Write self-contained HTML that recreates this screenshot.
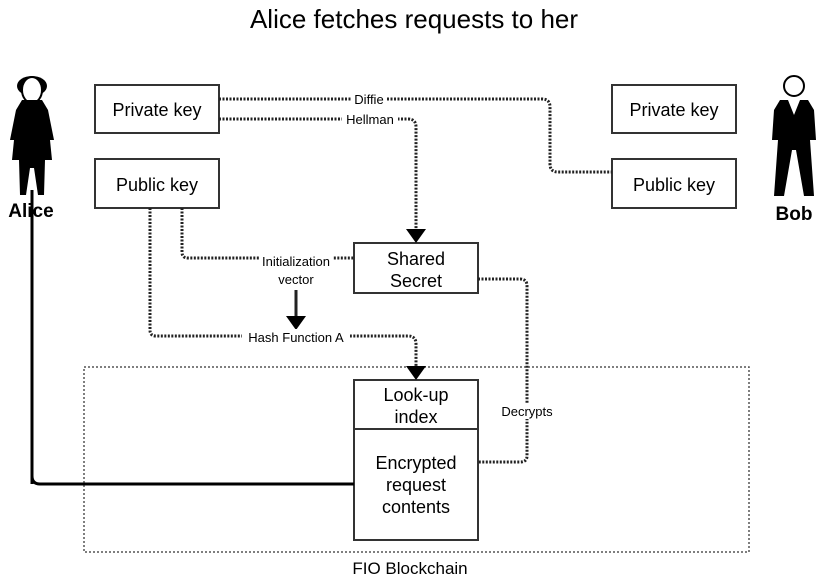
<!DOCTYPE html>
<html><head><style>
html,body{margin:0;padding:0;background:#fff;}
svg{display:block;font-family:"Liberation Sans",Arial,sans-serif;}
</style></head><body>
<svg width="829" height="587" viewBox="0 0 829 587" xmlns="http://www.w3.org/2000/svg">
<text x="414" y="28" font-size="26" text-anchor="middle">Alice fetches requests to her</text>

<!-- Alice figure -->
<g fill="#000">
<ellipse cx="32" cy="86" rx="15" ry="10"/>
<ellipse cx="32" cy="90" rx="10" ry="13" fill="#fff" stroke="#000" stroke-width="2"/>
<path d="M22 100 L42 100 L48 110 L54 140 L50 140 L52 160 L45 160 L44 195 L38 195 L34 168 L30 168 L26 195 L20 195 L19 160 L12 160 L14 140 L10 140 L16 110 Z"/>
</g>

<!-- Bob figure -->
<circle cx="794" cy="86" r="10" fill="#fff" stroke="#000" stroke-width="2"/>
<path d="M780 100 L808 100 L814 110 L816 140 L810 140 L814 196 L804 196 L796 150 L792 150 L784 196 L774 196 L778 140 L772 140 L774 110 Z" fill="#000"/>
<path d="M788 100 L794 115 L800 100 Z" fill="#fff"/>
<text x="794" y="220" font-size="19" font-weight="bold" text-anchor="middle">Bob</text>

<g fill="#fff" stroke="#333" stroke-width="2">
<rect x="95" y="85" width="124" height="48"/>
<rect x="95" y="159" width="124" height="49"/>
<rect x="612" y="85" width="124" height="48"/>
<rect x="612" y="159" width="124" height="49"/>
<rect x="354" y="243" width="124" height="50"/>
<rect x="354" y="380" width="124" height="49"/>
<rect x="354" y="429" width="124" height="111"/>
</g>
<rect x="84" y="367" width="665" height="185" fill="none" stroke="#555" stroke-width="1.5" stroke-dasharray="2,2"/>

<g font-size="18" text-anchor="middle">
<text x="157" y="116">Private key</text>
<text x="157" y="191">Public key</text>
<text x="674" y="116">Private key</text>
<text x="674" y="191">Public key</text>
<text x="416" y="265">Shared</text>
<text x="416" y="287">Secret</text>
<text x="416" y="401">Look-up</text>
<text x="416" y="423">index</text>
<text x="416" y="469">Encrypted</text>
<text x="416" y="491">request</text>
<text x="416" y="513">contents</text>
<text x="410" y="574" font-size="17">FIO Blockchain</text>
</g>

<g fill="none" stroke="#222" stroke-width="3" stroke-dasharray="2,1.5">
<path d="M219 99 H542 Q550 99 550 107 V164 Q550 172 558 172 H612"/>
<path d="M219 119 H408 Q416 119 416 127 V230"/>
<path d="M182 208 V252 Q182 258 188 258 H354"/>
<path d="M150 208 V330 Q150 336 156 336 H408 Q416 336 416 344 V367"/>
<path d="M478 279 H520 Q527 279 527 286 V456 Q527 462 520 462 H478"/>
</g>
<path d="M296 290 V318" stroke="#222" stroke-width="3" fill="none"/>
<path d="M32 484 V190" stroke="#000" stroke-width="3" fill="none"/>
<path d="M354 484 H40 Q32 484 32 476" stroke="#000" stroke-width="3" fill="none"/>
<text x="31" y="217" font-size="19" font-weight="bold" text-anchor="middle">Alice</text>

<g fill="#000">
<path d="M406 229 L426 229 L416 243 Z"/>
<path d="M406 366 L426 366 L416 380 Z"/>
<path d="M286 316 L306 316 L296 330 Z"/>
</g>

<g font-size="13" text-anchor="middle">
<rect x="351" y="92" width="36" height="14" fill="#fff"/>
<text x="369" y="104">Diffie</text>
<rect x="342" y="112" width="56" height="14" fill="#fff"/>
<text x="370" y="124">Hellman</text>
<rect x="259" y="252" width="74" height="36" fill="#fff"/>
<text x="296" y="266">Initialization</text>
<text x="296" y="284">vector</text>
<rect x="242" y="329" width="108" height="15" fill="#fff"/>
<text x="296" y="342">Hash Function A</text>
<rect x="499" y="403" width="56" height="16" fill="#fff"/>
<text x="527" y="416">Decrypts</text>
</g>
</svg>
</body></html>
